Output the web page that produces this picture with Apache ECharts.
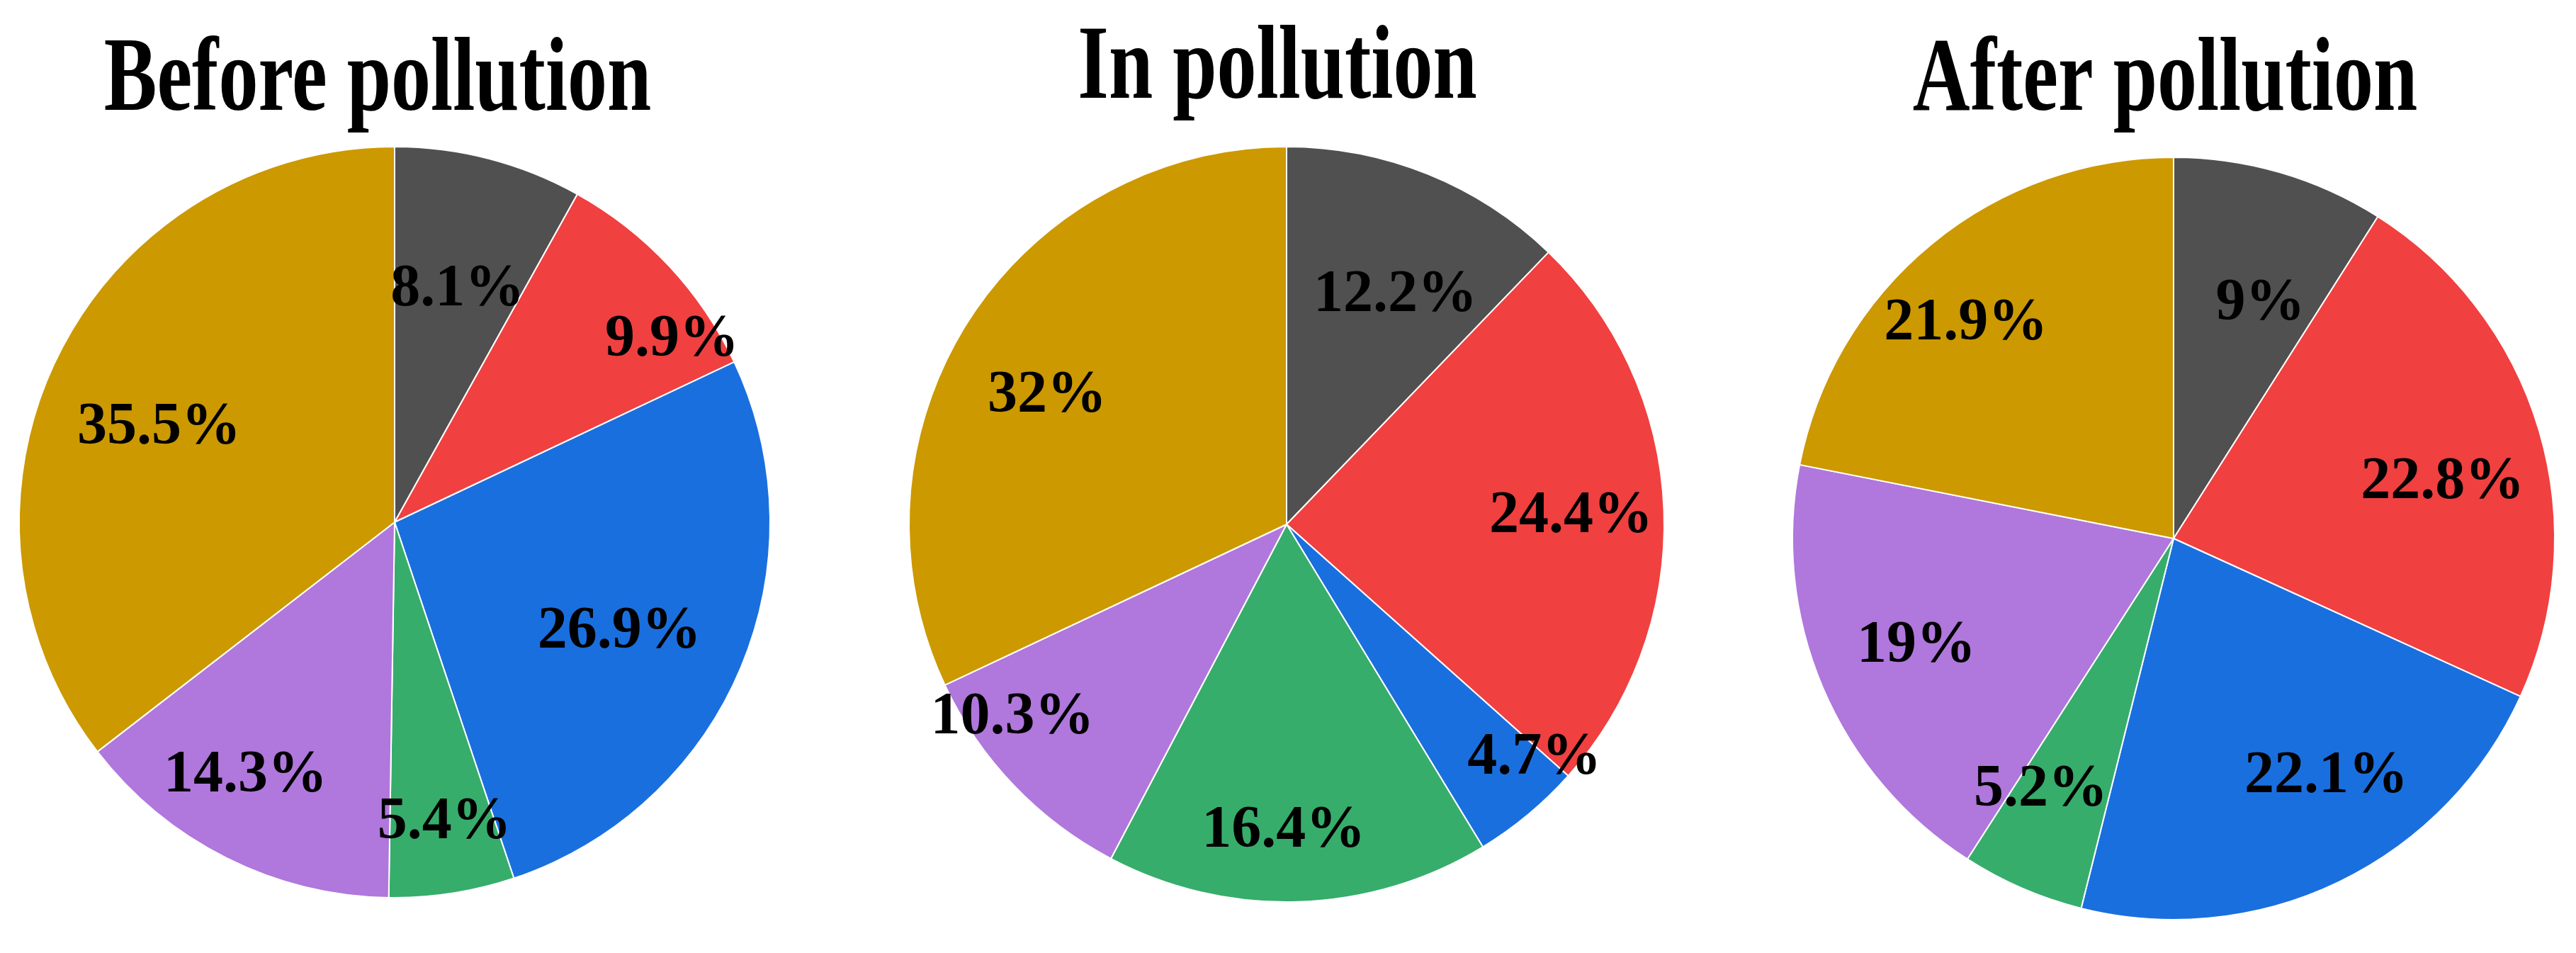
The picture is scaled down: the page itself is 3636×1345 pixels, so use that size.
<!DOCTYPE html>
<html>
<head>
<meta charset="utf-8">
<script src="https://cdn.jsdelivr.net/npm/echarts@6/dist/echarts.min.js"></script>
<style>
html,body{margin:0;padding:0;background:#fff;}
#chart{width:3636px;height:1345px;}
</style>
</head>
<body>
<div id="chart"></div>
<script>
// ---- data ----
const categories = ['Group 1', 'Group 2', 'Group 3', 'Group 4', 'Group 5', 'Group 6'];
const titles = ['Before pollution', 'In pollution', 'After pollution'];
const beforeValues = [8.1, 9.9, 26.9, 5.4, 14.3, 35.5];
const inValues = [12.2, 24.4, 4.7, 16.4, 10.3, 32];
const afterValues = [9, 22.8, 22.1, 5.2, 19, 21.9];

// ---- style / layout ----
const colors = ['#505050', '#F04040', '#1A6FDF', '#37AD6B', '#B077DD', '#CC9900'];
const pieLayout = [
  { center: [557, 737], r: 530, titleX: 533, titleY: 117 },
  { center: [1816, 740], r: 533, titleX: 1803, titleY: 100 },
  { center: [3068, 760], r: 538, titleX: 3056, titleY: 117 }
];
// small label nudges (px) relative to the default inside position
const labelNudge = [
  [[-12, 60], [99, 17], [-51, -2], [9, 29], [-31, 0], [27, 44]],
  [[3, 51], [-1, 4], [92, 21], [-17, 31], [-96, -5], [2, 35]],
  [[9, 60], [-10, 37], [39, -30], [-26, -18], [11, -7], [-35, 11]]
];

const allValues = [beforeValues, inValues, afterValues];
const series = [];
const graphics = [];
allValues.forEach(function (vals, k) {
  const L = pieLayout[k];
  const data = vals.map(function (v, i) { return { name: categories[i], value: v }; });
  series.push({
    type: 'pie',
    center: L.center,
    radius: [0, L.r],
    startAngle: 90,
    clockwise: true,
    silent: true,
    animation: false,
    label: { show: false },
    labelLine: { show: false },
    itemStyle: { borderColor: '#ffffff', borderWidth: 2 },
    data: data,
    z: 2
  });
  series.push({
    type: 'pie',
    center: L.center,
    radius: [L.r * 0.5, L.r],
    startAngle: 90,
    clockwise: true,
    silent: true,
    animation: false,
    itemStyle: { color: 'rgba(0,0,0,0)', borderWidth: 0 },
    label: {
      show: true,
      position: 'inside',
      formatter: function (p) { return p.value + '%'; },
      fontFamily: '"Liberation Serif", "Times New Roman", serif',
      fontWeight: 'bold',
      fontSize: 84,
      color: '#000000'
    },
    labelLine: { show: false },
    labelLayout: function (p) {
      const n = labelNudge[k][p.dataIndex];
      return { dx: n[0], dy: n[1] };
    },
    data: data,
    z: 3
  });
  graphics.push({
    type: 'text',
    x: L.titleX,
    y: L.titleY,
    scaleX: 1,
    scaleY: 1.33,
    silent: true,
    z: 100,
    style: {
      text: titles[k],
      font: 'bold 112px "Liberation Serif", "Times New Roman", serif',
      textAlign: 'center',
      textVerticalAlign: 'middle',
      verticalAlign: 'middle',
      fill: '#000000'
    }
  });
});

const chart = echarts.init(document.getElementById('chart'), null, { renderer: 'canvas' });
chart.setOption({
  backgroundColor: '#ffffff',
  animation: false,
  color: colors,
  graphic: graphics,
  series: series
});
</script>
</body>
</html>
